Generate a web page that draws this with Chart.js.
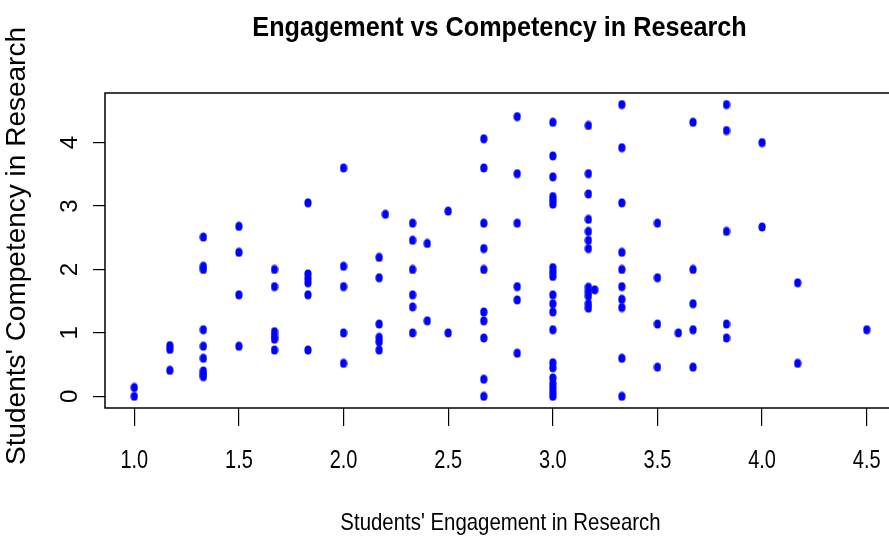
<!DOCTYPE html>
<html>
<head>
<meta charset="utf-8">
<script src="https://cdn.jsdelivr.net/npm/chart.js@4/dist/chart.umd.min.js"></script>
<style>
  body { margin: 0; background: #fff; overflow: hidden; }
  #wrap { width: 910px; height: 540px; }
</style>
</head>
<body>
<div id="wrap"><canvas id="chartScatter" width="910" height="540"></canvas></div>
<script>
// Students' engagement (x) and competency (y)
const engagement = [
  1.0, 1.0,
  1.17, 1.17, 1.17,
  1.33, 1.33, 1.33, 1.33, 1.33, 1.33, 1.33, 1.33, 1.33,
  1.5, 1.5, 1.5, 1.5,
  1.67, 1.67, 1.67, 1.67, 1.67, 1.67,
  1.83, 1.83, 1.83, 1.83, 1.83, 1.83,
  2.0, 2.0, 2.0, 2.0, 2.0,
  2.17, 2.17, 2.17, 2.17, 2.17, 2.17,
  2.2,
  2.33, 2.33, 2.33, 2.33, 2.33, 2.33,
  2.4, 2.4,
  2.5, 2.5,
  2.67, 2.67, 2.67, 2.67, 2.67, 2.67, 2.67, 2.67, 2.67, 2.67,
  2.83, 2.83, 2.83, 2.83, 2.83, 2.83,
  3.0, 3.0, 3.0, 3.0, 3.0, 3.0, 3.0, 3.0, 3.0, 3.0, 3.0, 3.0, 3.0, 3.0, 3.0, 3.0, 3.0, 3.0, 3.0, 3.0,
  3.17, 3.17, 3.17, 3.17, 3.17, 3.17, 3.17, 3.17, 3.17, 3.17, 3.17, 3.17,
  3.2,
  3.33, 3.33, 3.33, 3.33, 3.33, 3.33, 3.33, 3.33, 3.33, 3.33,
  3.5, 3.5, 3.5, 3.5,
  3.6,
  3.67, 3.67, 3.67, 3.67, 3.67,
  3.83, 3.83, 3.83, 3.83, 3.83,
  4.0, 4.0,
  4.17, 4.17,
  4.5
];
const competency = [
  0.14, 0.0,
  0.80, 0.74, 0.41,
  2.51, 2.05, 2.0, 1.05, 0.79, 0.60, 0.40, 0.35, 0.31,
  2.68, 2.27, 1.60, 0.79,
  2.0, 1.73, 1.02, 0.95, 0.90, 0.73,
  3.05, 1.93, 1.86, 1.79, 1.60, 0.73,
  3.6, 2.05, 1.73, 1.0, 0.52,
  2.19, 1.87, 1.14, 0.93, 0.86, 0.73,
  2.87,
  2.73, 2.46, 2.0, 1.6, 1.41, 1.0,
  2.41, 1.19,
  2.92, 1.0,
  4.06, 3.6, 2.73, 2.33, 2.0, 1.33, 1.19, 0.92, 0.27, 0.0,
  4.41, 3.51, 2.73, 1.73, 1.52, 0.68,
  4.32, 3.79, 3.46, 3.15, 3.09, 3.03, 2.03, 1.96, 1.89, 1.6, 1.46, 1.33, 1.05, 0.53, 0.45, 0.29, 0.2, 0.13, 0.06, 0.0,
  4.27, 3.51, 3.19, 2.79, 2.6, 2.46, 2.33, 1.72, 1.65, 1.58, 1.46, 1.39,
  1.68,
  4.6, 3.92, 3.05, 2.27, 2.0, 1.73, 1.53, 1.40, 0.6, 0.0,
  2.73, 1.87, 1.14, 0.46,
  1.0,
  4.32, 2.0, 1.46, 1.05, 0.46,
  4.6, 4.19, 2.6, 1.14, 0.92,
  4.0, 2.67,
  1.79, 0.52,
  1.05
];
const xTicks = [1.0, 1.5, 2.0, 2.5, 3.0, 3.5, 4.0, 4.5];
const yTicks = [0, 1, 2, 3, 4];

const chartTitle = "Engagement vs Competency in Research";
const xTitle = "Students' Engagement in Research";
const yTitle = "Students' Competency in Research";

const points = engagement.map((x, i) => ({ x: x, y: competency[i] }));

// slightly tall dot, like the squeezed R output
const dot = document.createElement("canvas");
dot.width = 8; dot.height = 10;
const dctx = dot.getContext("2d");
dctx.fillStyle = "#0000ff";
dctx.beginPath();
dctx.ellipse(4, 5, 3.6, 4.5, 0, 0, Math.PI * 2);
dctx.fill();

const plain = "'Liberation Sans', Arial, sans-serif";

// horizontal text in the reference is squeezed sideways
function squeezed(ctx, text, x, y, font, sx) {
  ctx.save();
  ctx.translate(x, y);
  ctx.scale(sx, 1);
  ctx.font = font;
  ctx.fillText(text, 0, 0);
  ctx.restore();
}

const rBase = {
  id: "rBase",
  afterDraw(chart) {
    const { ctx, chartArea: a, scales } = chart;
    ctx.save();
    // box
    ctx.strokeStyle = "#000";
    ctx.lineWidth = 1.5;
    ctx.strokeRect(a.left, a.top, a.right - a.left, a.bottom - a.top);

    ctx.fillStyle = "#000";
    ctx.textAlign = "center";
    ctx.textBaseline = "middle";
    const cx = (a.left + a.right) / 2;
    squeezed(ctx, chartTitle, cx - 1, 28, "bold 28px " + plain, 0.9);
    squeezed(ctx, xTitle, cx, 523, "24px " + plain, 0.85);
    xTicks.forEach(v => {
      squeezed(ctx, v.toFixed(1), scales.x.getPixelForValue(v), 461, "25px " + plain, 0.8);
    });
    // y tick labels and title, rotated like R
    yTicks.forEach(v => {
      const py = scales.y.getPixelForValue(v);
      ctx.save();
      ctx.translate(70, py);
      ctx.rotate(-Math.PI / 2);
      ctx.font = "24px " + plain;
      ctx.fillText(String(v), 0, 0);
      ctx.restore();
    });
    ctx.save();
    ctx.translate(17, 246);
    ctx.rotate(-Math.PI / 2);
    ctx.font = "28px " + plain;
    ctx.fillText(yTitle, 0, 0);
    ctx.restore();
    ctx.restore();
  }
};

const ctxScatter = document.getElementById("chartScatter").getContext("2d");
const chartScatter = new Chart(ctxScatter, {
  type: "scatter",
  data: {
    datasets: [{
      data: points,
      pointStyle: dot,
      pointRadius: 4,
      backgroundColor: "#0000ff",
      borderColor: "#0000ff"
    }]
  },
  options: {
    responsive: false,
    animation: false,
    layout: { padding: { top: 93, right: 14, left: 0, bottom: 0 } },
    plugins: { legend: { display: false }, tooltip: { enabled: false } },
    scales: {
      x: {
        type: "linear",
        min: 0.86,
        max: 4.64,
        afterFit: s => { s.height = 132; },
        afterBuildTicks: s => { s.ticks = xTicks.map(v => ({ value: v })); },
        border: { display: false },
        grid: { drawOnChartArea: false, drawTicks: true, tickLength: 18, color: "#000", lineWidth: 1.2 },
        ticks: { display: false }
      },
      y: {
        type: "linear",
        min: -0.184,
        max: 4.782,
        afterFit: s => { s.width = 105; },
        afterBuildTicks: s => { s.ticks = yTicks.map(v => ({ value: v })); },
        border: { display: false },
        grid: { drawOnChartArea: false, drawTicks: true, tickLength: 12, color: "#000", lineWidth: 1.2 },
        ticks: { display: false }
      }
    }
  },
  plugins: [rBase]
});
</script>
</body>
</html>
